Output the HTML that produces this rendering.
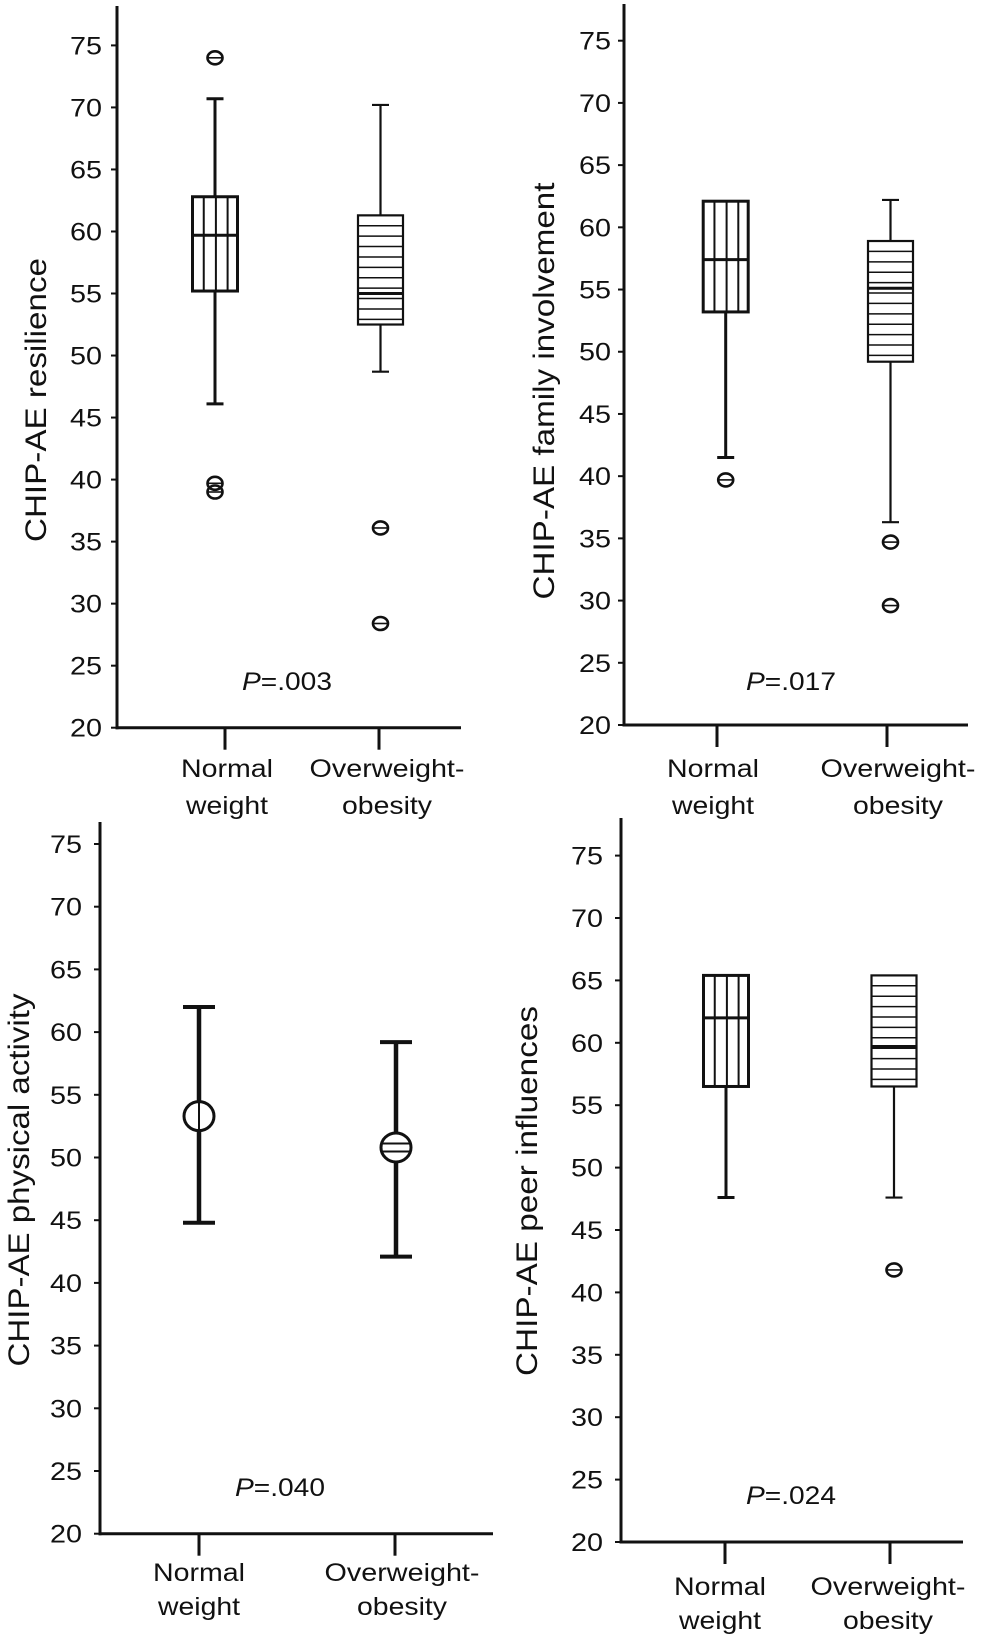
<!DOCTYPE html>
<html><head><meta charset="utf-8"><style>
html,body{margin:0;padding:0;background:#fff}
svg{display:block}
text{font-family:"Liberation Sans",Arial,sans-serif;fill:#111}
</style></head><body>
<svg id="fig" width="996" height="1637" viewBox="0 0 996 1637" xmlns="http://www.w3.org/2000/svg"></svg>
<script>
// ---- data ----
const categories = ["Normal weight", "Overweight-obesity"];
const tickValues = [20,25,30,35,40,45,50,55,60,65,70,75];
const tickLabels = ["20","25","30","35","40","45","50","55","60","65","70","75"];
// resilience: [lowWhisker, q1, median, q3, highWhisker]
const resilienceNormal = [46.1, 55.2, 59.7, 62.8, 70.7];
const resilienceOver = [48.7, 52.5, 55.0, 61.3, 70.2];
const resilienceOutNormal = [74.0, 39.7, 39.0];
const resilienceOutOver = [36.1, 28.4];
// family involvement
const familyNormal = [41.5, 53.2, 57.4, 62.1, 62.1];
const familyOver = [36.3, 49.2, 55.1, 58.9, 62.2];
const familyOutNormal = [39.7];
const familyOutOver = [34.7, 29.6];
// physical activity: [lower, mean, upper]
const activityNormal = [44.8, 53.3, 62.0];
const activityOver = [42.1, 50.8, 59.2];
// peer influences
const peerNormal = [47.6, 56.5, 62.0, 65.4, 65.4];
const peerOver = [47.6, 56.5, 59.7, 65.4, 65.4];
const peerOutNormal = [];
const peerOutOver = [41.8];
const pValues = ["=.003", "=.017", "=.040", "=.024"];

const NS = "http://www.w3.org/2000/svg";
const svg = document.getElementById("fig");
function mk(tag, attrs, parent) {
  const e = document.createElementNS(NS, tag);
  for (const k in attrs) e.setAttribute(k, attrs[k]);
  (parent || svg).appendChild(e);
  return e;
}
function line(g, x1, y1, x2, y2, w) {
  return mk("line", {x1, y1, x2, y2, stroke: "#111", "stroke-width": w, "stroke-linecap": "butt"}, g);
}

const panels = [
  {name:"resilience", title:"CHIP-AE resilience", titleLen:284, tx:35, tyc:400,
   ax:117, top:6, y75:45.4, y20:727.7, xEnd:461, cx:[225,379], labX:[227,387], lab1:777, lab2:814, labR:102,
   bx:[215,380.5], p:pValues[0], px:287, py:690, type:"box",
   data:[resilienceNormal, resilienceOver], outs:[resilienceOutNormal, resilienceOutOver]},
  {name:"family-involvement", title:"CHIP-AE family involvement", titleLen:417, tx:543, tyc:391,
   ax:624, top:4, y75:40.7, y20:725, xEnd:968, cx:[717,887], labX:[713,898], lab1:777, lab2:814, labR:611,
   bx:[725.7,890.5], p:pValues[1], px:791, py:690, type:"box",
   data:[familyNormal, familyOver], outs:[familyOutNormal, familyOutOver]},
  {name:"physical-activity", title:"CHIP-AE physical activity", titleLen:373, tx:18, tyc:1180,
   ax:100, top:822, y75:844, y20:1533.7, xEnd:493, cx:[199,395], labX:[199,402], lab1:1581, lab2:1615, labR:82,
   bx:[199,396], p:pValues[2], px:280, py:1496, type:"err",
   data:[activityNormal, activityOver]},
  {name:"peer-influences", title:"CHIP-AE peer influences", titleLen:370, tx:526, tyc:1191,
   ax:621, top:818, y75:855.6, y20:1542, xEnd:963, cx:[725,890], labX:[720,888], lab1:1595, lab2:1629, labR:603,
   bx:[726,894], p:pValues[3], px:791, py:1504, type:"box",
   data:[peerNormal, peerOver], outs:[peerOutNormal, peerOutOver]}
];

panels.forEach((P, pi) => {
  const g = mk("g", {});
  
  
  const ys = v => P.y20 + (v - 20) * (P.y75 - P.y20) / 55;

  const ya = line(g, P.ax, P.top, P.ax, P.y20 + 1.5, 3);
  
  
  const xa = line(g, P.ax - 1.5, P.y20, P.xEnd, P.y20, 3);
  
  

  tickValues.forEach((v, i) => {
    const y = ys(v);
    line(g, P.ax - 6, y, P.ax, y, 2);
    const t = mk("text", {x: P.labR, y: y + 9, "font-size": 25, "text-anchor": "end",
      textLength: 32, lengthAdjust: "spacingAndGlyphs"}, g);
    t.textContent = tickLabels[i];
    
    
  });

  categories.forEach((c, ci) => {
    line(g, P.cx[ci], P.y20, P.cx[ci], P.y20 + 22, 3);
    const parts = ci === 0 ? ["Normal", "weight"] : ["Overweight-", "obesity"];
    const lens = ci === 0 ? [92, 82] : [155, 90];
    [P.lab1, P.lab2].forEach((yy, k) => {
      const t = mk("text", {x: P.labX[ci], y: yy, "font-size": 25, "text-anchor": "middle",
        textLength: lens[k], lengthAdjust: "spacingAndGlyphs"}, g);
      t.textContent = parts[k];
      
      
    });
  });

  const tt = mk("text", {x: 0, y: 0, "font-size": 30, "text-anchor": "middle",
    transform: `translate(${P.tx + 11},${P.tyc}) rotate(-90)`,
    textLength: P.titleLen, lengthAdjust: "spacingAndGlyphs"}, g);
  tt.textContent = P.title;
  
  

  const pt = mk("text", {x: P.px, y: P.py, "font-size": 25, "text-anchor": "middle",
    textLength: 90, lengthAdjust: "spacingAndGlyphs"}, g);
  const it = mk("tspan", {"font-style": "italic"}, pt);
  it.textContent = "P";
  const rest = mk("tspan", {}, pt);
  rest.textContent = P.p;
  
  

  if (P.type === "box") {
    P.data.forEach((d, ci) => {
      const bg = mk("g", {}, g);
      
      
      const cx = P.bx[ci], hw = 22.5;
      const w = ci === 0 ? 3 : 2.2;
      const yLo = ys(d[0]), yQ1 = ys(d[1]), yMed = ys(d[2]), yQ3 = ys(d[3]), yHi = ys(d[4]);
      if (yHi < yQ3 - 1) { line(bg, cx, yQ3, cx, yHi, w); line(bg, cx - 8.5, yHi, cx + 8.5, yHi, w); }
      if (yLo > yQ1 + 1) { line(bg, cx, yQ1, cx, yLo, w); line(bg, cx - 8.5, yLo, cx + 8.5, yLo, w); }
      if (ci === 0) {
        [0.25, 0.52, 0.78].forEach(f => line(bg, cx - hw + 2 * hw * f, yQ3, cx - hw + 2 * hw * f, yQ1, 2));
      } else {
        for (let y = yQ3 + 10.4; y < yQ1 - 3; y += 10.4) line(bg, cx - hw, y, cx + hw, y, 1.5);
      }
      mk("rect", {x: cx - hw, y: yQ3, width: 2 * hw, height: yQ1 - yQ3, fill: "none", stroke: "#111", "stroke-width": w}, bg);
      line(bg, cx - hw, yMed, cx + hw, yMed, 3);
      P.outs[ci].forEach(v => {
        const oy = ys(v);
        const o = mk("ellipse", {cx: cx, cy: oy, rx: 7.5, ry: 6.5, fill: "none", stroke: "#111", "stroke-width": 2.6}, bg);
        
        
        line(bg, cx - 6.5, oy, cx + 6.5, oy, 1.6);
      });
    });
  } else {
    P.data.forEach((d, ci) => {
      const bg = mk("g", {}, g);
      
      
      const cx = P.bx[ci];
      const yL = ys(d[0]), yM = ys(d[1]), yU = ys(d[2]);
      line(bg, cx, yU, cx, yL, 4.5);
      line(bg, cx - 16, yU, cx + 16, yU, 4);
      line(bg, cx - 16, yL, cx + 16, yL, 4);
      mk("ellipse", {cx: cx, cy: yM, rx: 15, ry: 14.5, fill: "#fff", stroke: "#111", "stroke-width": 3}, bg);
      if (ci === 0) {
        line(bg, cx, yM - 14, cx, yM + 14, 2);
      } else {
        line(bg, cx - 14, yM - 4, cx + 14, yM - 4, 2);
        line(bg, cx - 14, yM + 4, cx + 14, yM + 4, 2);
      }
    });
  }
});
</script>
</body></html>
